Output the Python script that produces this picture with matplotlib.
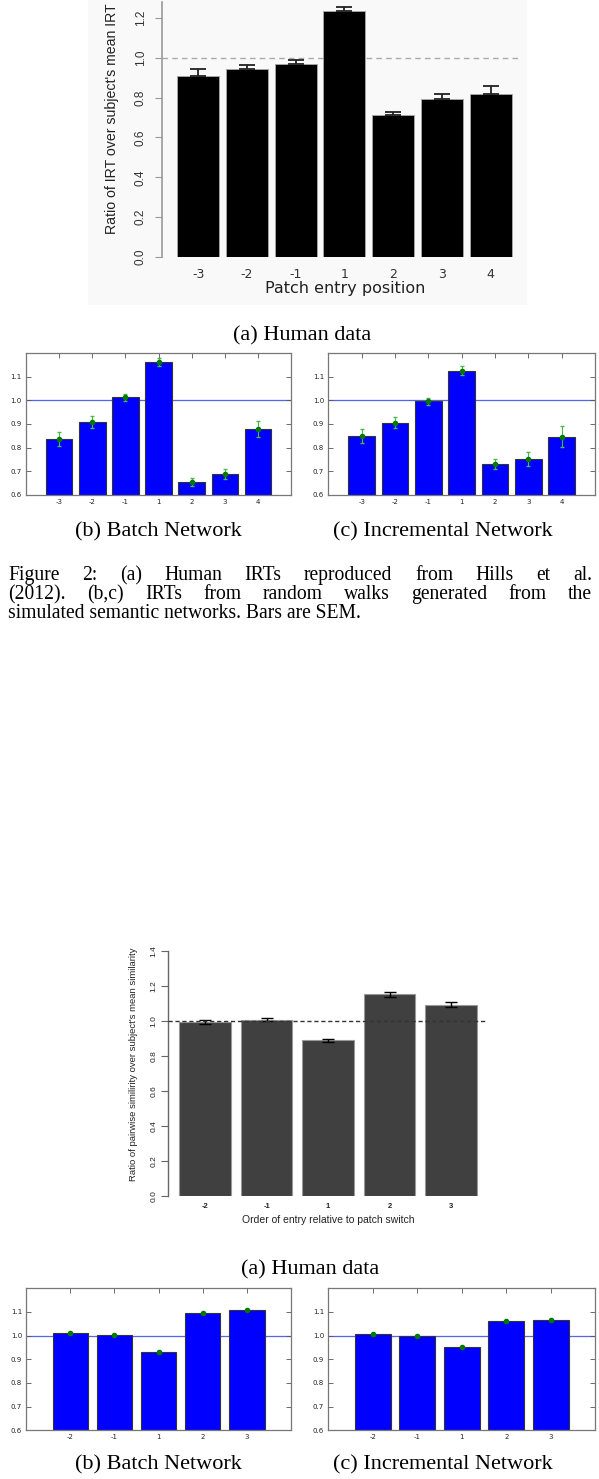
import matplotlib
matplotlib.use("Agg")
import matplotlib.pyplot as plt
from matplotlib.patches import Rectangle

W, H = 599, 1479

# Figure 2: ratio of IRT by patch entry position
irt_pos = ["-3", "-2", "-1", "1", "2", "3", "4"]
human_irt = [0.911, 0.945, 0.971, 1.234, 0.711, 0.791, 0.820]
human_irt_err = [0.034, 0.020, 0.017, 0.023, 0.018, 0.029, 0.039]
batch_irt = [0.835, 0.909, 1.013, 1.162, 0.652, 0.688, 0.878]
batch_irt_err = [0.030, 0.024, 0.014, 0.016, 0.017, 0.020, 0.034]
incr_irt = [0.849, 0.905, 0.996, 1.125, 0.730, 0.752, 0.846]
incr_irt_err = [0.031, 0.024, 0.016, 0.019, 0.021, 0.031, 0.044]

# Figure 3: ratio of pairwise similarity by order of entry
sim_pos = ["-2", "-1", "1", "2", "3"]
human_sim = [0.995, 1.006, 0.889, 1.151, 1.092]
human_sim_err = [0.011, 0.008, 0.008, 0.013, 0.016]
batch_sim = [1.011, 1.004, 0.931, 1.095, 1.110]
batch_sim_err = [0.003, 0.002, 0.003, 0.003, 0.003]
incr_sim = [1.007, 1.000, 0.951, 1.060, 1.066]
incr_sim_err = [0.003, 0.003, 0.003, 0.003, 0.003]

caption2 = ["Figure 2:  (a) Human IRTs reproduced from Hills et al.",
            "(2012).  (b,c) IRTs from random walks generated from the",
            "simulated semantic networks. Bars are SEM."]

SERIF = "Liberation Serif"
ARIAL = "Liberation Sans"

fig = plt.figure(figsize=(W / 100, H / 100), dpi=100)


def fx(x):
    return x / W


def fy(y):
    return 1 - y / H


def px_axes(l, t, r, b):
    return fig.add_axes([l / W, 1 - b / H, (r - l) / W, (b - t) / H])


def net_panel(ax, labels, vals, errs):
    x = list(range(len(vals)))
    ax.bar(x, vals, width=0.8, color="#0000ff", edgecolor="#333333", linewidth=0.8, zorder=2)
    ax.axhline(1.0, color="#5566e8", lw=0.9, zorder=1)
    ax.errorbar(x, vals, yerr=errs, fmt="o", color="#007a00", ms=3, ecolor="#4cb84c",
                elinewidth=0.8, capsize=1.5, zorder=3)
    ax.set_xlim(-1, len(vals))
    ax.set_ylim(0.6, 1.2)
    ax.set_yticks([0.6, 0.7, 0.8, 0.9, 1.0, 1.1])
    ax.set_yticklabels(["0.6", "0.7", "0.8", "0.9", "1.0", "1.1"])
    ax.set_xticks(x)
    ax.set_xticklabels(labels)
    ax.tick_params(direction="in", top=True, right=True, length=3.5, width=0.6,
                   labelsize=5, color="#555555", labelcolor="#222222", pad=3)
    for s in ax.spines.values():
        s.set_color("#777777")
        s.set_linewidth(0.9)


# faint screenshot background of the human data plot
fig.patches.append(Rectangle((fx(88), fy(305)), (527 - 88) / W, 305 / H, transform=fig.transFigure,
                             facecolor="#f9f9f9", edgecolor="none", zorder=-5))

# ---- Figure 2 (a) human data ----
ax = px_axes(162, 2, 520, 257)
ax.set_facecolor("none")
x = list(range(len(human_irt)))
ax.bar(x, human_irt, width=0.86, color="black", edgecolor="#aaaaaa", linewidth=0.6, zorder=2)
ax.errorbar(x, human_irt, yerr=[[0] * len(x), human_irt_err], fmt="none", ecolor="#222222",
            elinewidth=1.3, capsize=6, capthick=1.3, zorder=3)
ax.axhline(1.0, color="#aaaaaa", ls=(0, (4, 3)), lw=1, zorder=1)
ax.set_xlim(-0.74, 6.6)
ax.set_ylim(0, 1.28)
for k in ["top", "right", "bottom"]:
    ax.spines[k].set_visible(False)
ax.spines["left"].set_color("#999999")
ax.spines["left"].set_linewidth(1.2)
ax.set_yticks([0, 0.2, 0.4, 0.6, 0.8, 1.0, 1.2])
ax.set_yticklabels(["0.0", "0.2", "0.4", "0.6", "0.8", "1.0", "1.2"], rotation=90, va="center",
                   fontsize=8.5, family=ARIAL, color="#333333")
ax.tick_params(axis="y", direction="out", length=5, color="#999999", pad=6)
ax.set_xticks(x)
ax.set_xticklabels(irt_pos, fontsize=9, family="DejaVu Sans", color="#333333")
ax.tick_params(axis="x", length=0, pad=8)
fig.text(fx(345), fy(288), "Patch entry position", ha="center", va="center", fontsize=11.5,
         family="DejaVu Sans", color="#222222")
fig.text(fx(112), fy(119), "Ratio of IRT over subject's mean IRT", ha="center", va="center",
         rotation=90, fontsize=10.2, family=ARIAL, color="#222222")

fig.text(fx(302), fy(336), "(a) Human data", ha="center", va="center", fontsize=16, family=SERIF)

# ---- Figure 2 (b), (c) ----
net_panel(px_axes(26.1, 353.3, 291, 494.7), irt_pos, batch_irt, batch_irt_err)
net_panel(px_axes(328.4, 353.3, 595, 494.7), irt_pos, incr_irt, incr_irt_err)
fig.text(fx(158), fy(532), "(b) Batch Network", ha="center", va="center", fontsize=16, family=SERIF)
fig.text(fx(443), fy(532), "(c) Incremental Network", ha="center", va="center", fontsize=16, family=SERIF)

# ---- Figure 2 caption (justified) ----
renderer = fig.canvas.get_renderer()
probe = fig.text(0, 0, caption2[2], fontsize=10, family=SERIF)
cap_size = 10 * 352 / probe.get_window_extent(renderer).width
probe.remove()


def justify(line, base, x0, x1):
    words = line.split()
    texts = [fig.text(0, fy(base), w, fontsize=cap_size, family=SERIF, va="baseline") for w in words]
    widths = [t.get_window_extent(renderer).width for t in texts]
    gap = ((x1 - x0) - sum(widths)) / (len(words) - 1)
    pos = x0
    for t, w in zip(texts, widths):
        t.set_x(fx(pos))
        pos += w + gap


justify(caption2[0], 580, 8, 592)
justify(caption2[1], 599, 8, 592)
fig.text(fx(8), fy(618), caption2[2], fontsize=cap_size, family=SERIF, va="baseline")

# ---- Figure 3 (a) human data ----
ax = px_axes(168.3, 950.7, 486.7, 1196)
x = list(range(len(human_sim)))
ax.bar(x, human_sim, width=0.84, color="#404040", edgecolor="#999999", linewidth=0.8, zorder=2)
ax.errorbar(x, human_sim, yerr=human_sim_err, fmt="none", ecolor="black", elinewidth=1,
            capsize=4, capthick=1, zorder=3)
ax.axhline(1.0, color="#333333", ls=(0, (3, 2)), lw=1, zorder=4)
ax.set_xlim(-0.6, 4.58)
ax.set_ylim(0, 1.4)
for k in ["top", "right", "bottom"]:
    ax.spines[k].set_visible(False)
ax.spines["left"].set_color("#666666")
ax.spines["left"].set_linewidth(1)
ax.set_yticks([0, 0.2, 0.4, 0.6, 0.8, 1.0, 1.2, 1.4])
ax.set_yticklabels(["0.0", "0.2", "0.4", "0.6", "0.8", "1.0", "1.2", "1.4"], rotation=90,
                   va="center", fontsize=6, family=ARIAL, color="#222222")
ax.tick_params(axis="y", direction="out", length=5, color="#666666", pad=3)
ax.set_xticks(x)
ax.set_xticklabels(sim_pos, fontsize=5.5, fontweight="bold", family=ARIAL, color="#222222")
ax.tick_params(axis="x", length=0, pad=5)
fig.text(fx(328), fy(1220), "Order of entry relative to patch switch", ha="center", va="center",
         fontsize=7.5, family=ARIAL, color="#222222")
fig.text(fx(133), fy(1064), "Ratio of pairwise similirity over subject's mean similarity", ha="center",
         va="center", rotation=90, fontsize=6.8, family=ARIAL, color="#222222")

fig.text(fx(310), fy(1270), "(a) Human data", ha="center", va="center", fontsize=16, family=SERIF)

# ---- Figure 3 (b), (c) ----
net_panel(px_axes(26.2, 1288.3, 291, 1430.3), sim_pos, batch_sim, batch_sim_err)
net_panel(px_axes(328.3, 1288.3, 595.2, 1430.3), sim_pos, incr_sim, incr_sim_err)
fig.text(fx(158), fy(1465), "(b) Batch Network", ha="center", va="center", fontsize=16, family=SERIF)
fig.text(fx(443), fy(1465), "(c) Incremental Network", ha="center", va="center", fontsize=16, family=SERIF)

fig.savefig("out.png", dpi=100)
